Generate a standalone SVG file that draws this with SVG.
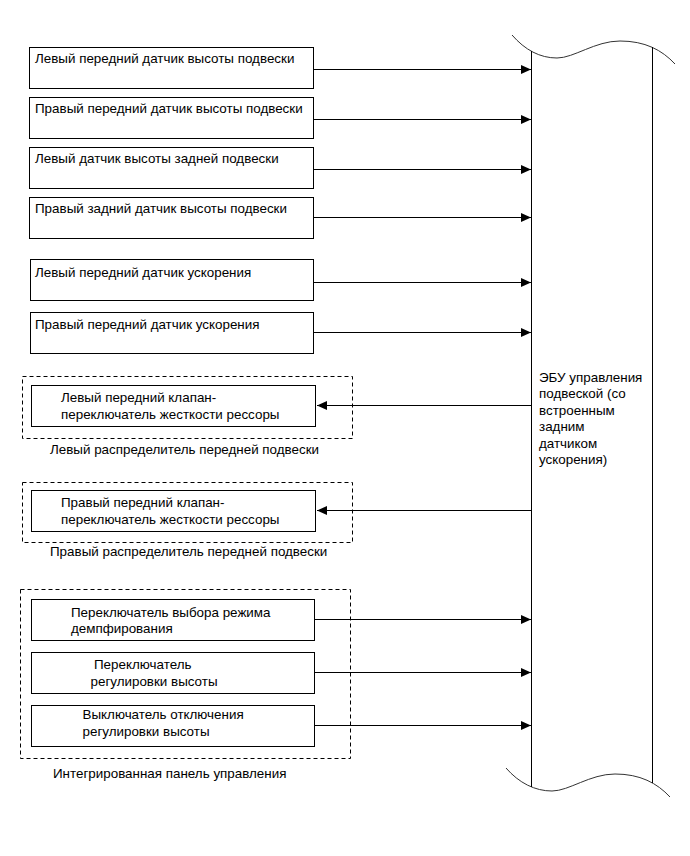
<svg xmlns="http://www.w3.org/2000/svg" width="690" height="856" viewBox="0 0 690 856">
<style>
text{font-family:"Liberation Sans",Arial,sans-serif;font-size:13.4px;fill:#000}
.box{fill:#fff;stroke:#000;stroke-width:1}
.grp{fill:none;stroke:#000;stroke-width:1;stroke-dasharray:4 3}
.wire{fill:none;stroke:#000;stroke-width:1}
.ecu{fill:none;stroke:#000;stroke-width:1}
.wave{fill:none;stroke:#333;stroke-width:1}
</style>
<defs>
<marker id="ah" viewBox="0 0 10 10" refX="10" refY="5" markerWidth="10" markerHeight="10" markerUnits="userSpaceOnUse" orient="auto">
<path d="M0,0.5 L10,5 L0,9.5 Z" fill="#000"/>
</marker>
</defs>
<rect width="690" height="856" fill="#fff"/>

<g id="ecu">
<path class="wave" d="M512,35 C525,50 540,58 557,58 S595,41 620,41 S662,50 675,64"/>
<path class="wave" d="M506,768 C519,783 535,791 552,791 S590,774 615,774 S657,783 670,797"/>
<line class="ecu" x1="531.5" y1="51" x2="531.5" y2="787"/>
<line class="ecu" x1="652.5" y1="47" x2="652.5" y2="783"/>
<text x="539" y="381.5">ЭБУ управления</text>
<text x="539" y="398">подвеской (со</text>
<text x="539" y="414.5">встроенным</text>
<text x="539" y="431">задним</text>
<text x="539" y="447.5">датчиком</text>
<text x="539" y="464">ускорения)</text>
</g>

<g id="s1"><rect class="box" x="29.5" y="47.5" width="284" height="41"/><text x="35" y="62.5">Левый передний датчик высоты подвески</text></g>
<g id="s2"><rect class="box" x="29.5" y="97.5" width="284" height="41"/><text x="35" y="112.5">Правый передний датчик высоты подвески</text></g>
<g id="s3"><rect class="box" x="29.5" y="147.5" width="284" height="41"/><text x="35" y="162.5">Левый датчик высоты задней подвески</text></g>
<g id="s4"><rect class="box" x="29.5" y="197.5" width="284" height="41"/><text x="35" y="212.5">Правый задний датчик высоты подвески</text></g>
<g id="s5"><rect class="box" x="30.5" y="259.5" width="283" height="41"/><text x="35" y="277">Левый передний датчик ускорения</text></g>
<g id="s6"><rect class="box" x="30.5" y="312.5" width="283" height="41"/><text x="35" y="329">Правый передний датчик ускорения</text></g>

<g id="dist-left">
<rect class="grp" x="22.5" y="376.5" width="330" height="62"/>
<g id="valve-left"><rect class="box" x="31.5" y="385.5" width="284" height="41"/>
<text x="61" y="402">Левый передний клапан-</text>
<text x="61" y="419">переключатель жесткости рессоры</text></g>
<text x="50" y="454">Левый распределитель передней подвески</text>
</g>

<g id="dist-right">
<rect class="grp" x="22.5" y="482.5" width="330" height="60"/>
<g id="valve-right"><rect class="box" x="31.5" y="490.5" width="284" height="41"/>
<text x="61" y="507">Правый передний клапан-</text>
<text x="61" y="524">переключатель жесткости рессоры</text></g>
<text x="50" y="556">Правый распределитель передней подвески</text>
</g>

<g id="panel">
<rect class="grp" x="20.5" y="589.5" width="330" height="169"/>
<g id="sw1"><rect class="box" x="31.5" y="599.5" width="283" height="41"/>
<text x="71" y="616.5">Переключатель выбора режима</text>
<text x="71" y="633">демпфирования</text></g>
<g id="sw2"><rect class="box" x="31.5" y="652.5" width="283" height="41"/>
<text x="94" y="668.5">Переключатель</text>
<text x="90.5" y="685.5">регулировки высоты</text></g>
<g id="sw3"><rect class="box" x="31.5" y="705.5" width="283" height="41"/>
<text x="82.5" y="719">Выключатель отключения</text>
<text x="82.5" y="736">регулировки высоты</text></g>
<text x="53" y="778">Интегрированная панель управления</text>
</g>

<g id="connectors">
<line class="wire" x1="313.5" y1="69.5" x2="531" y2="69.5" marker-end="url(#ah)"/>
<line class="wire" x1="313.5" y1="119.5" x2="531" y2="119.5" marker-end="url(#ah)"/>
<line class="wire" x1="313.5" y1="169.5" x2="531" y2="169.5" marker-end="url(#ah)"/>
<line class="wire" x1="313.5" y1="217.5" x2="531" y2="217.5" marker-end="url(#ah)"/>
<line class="wire" x1="313.5" y1="282.5" x2="531" y2="282.5" marker-end="url(#ah)"/>
<line class="wire" x1="313.5" y1="332.5" x2="531" y2="332.5" marker-end="url(#ah)"/>
<line class="wire" x1="531" y1="405.5" x2="317" y2="405.5" marker-end="url(#ah)"/>
<line class="wire" x1="531" y1="510.5" x2="317" y2="510.5" marker-end="url(#ah)"/>
<line class="wire" x1="314.5" y1="619.5" x2="531" y2="619.5" marker-end="url(#ah)"/>
<line class="wire" x1="314.5" y1="672.5" x2="531" y2="672.5" marker-end="url(#ah)"/>
<line class="wire" x1="314.5" y1="725.5" x2="531" y2="725.5" marker-end="url(#ah)"/>
</g>
</svg>
